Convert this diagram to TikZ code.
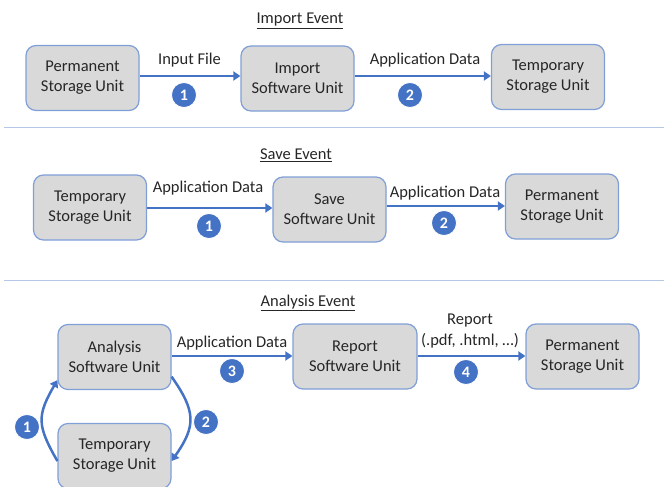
\documentclass[tikz,border=0pt]{standalone}
\usepackage{fontspec}
\setmainfont{Carlito}
\usetikzlibrary{arrows.meta,positioning,calc}

\definecolor{unitfill}{HTML}{D9D9D9}
\definecolor{unitline}{HTML}{7F9FD6}
\definecolor{flowblue}{HTML}{4472C4}
\definecolor{sepline}{HTML}{B4C7E7}

\tikzset{
  unit/.style={draw=unitline, fill=unitfill, line width=1.2pt, rounded corners=10pt,
    minimum width=113pt, minimum height=65pt, align=center, text=black!85,
    font=\fontsize{16.5}{20}\selectfont},
  flow/.style={draw=flowblue, line width=2.5pt, -{Triangle[width=9pt,length=7pt]}},
  flowlabel/.style={text=black!85, align=center, inner sep=0pt,
    font=\fontsize{16.5}{21}\selectfont},
  stepdot/.style={circle, fill=flowblue, draw=white, line width=0.8pt, text=white,
    minimum size=25pt, inner sep=0pt, font=\fontsize{16}{16}\selectfont\bfseries},
  title/.style={text=black!85, font=\fontsize{16.5}{18}\selectfont}
}

\begin{document}
\begin{tikzpicture}[x=1pt, y=-1pt]
    \useasboundingbox (0,0) rectangle (664,487);

    % Import event
    \node[title] (impT) at (300,21) {\underline{Import Event}};
    \node[unit] (impA) at (82.5,78) {Permanent\\Storage Unit};
    \node[unit] (impB) at (297.5,78.5) {Import\\Software Unit};
    \node[unit] (impC) at (548,77) {Temporary\\Storage Unit};
    \draw[flow] (impA.east |- 0,76) -- (impB.west |- 0,76);
    \draw[flow] (impB.east |- 0,76) -- (impC.west |- 0,76);
    \node[flowlabel] (impL1) at (189.5,60) {Input File};
    \node[stepdot] (impN1) at (184,95) {1};
    \node[flowlabel] (impL2) at (425,60) {Application Data};
    \node[stepdot] (impN2) at (410,95) {2};

    \draw[sepline, line width=1pt] (4,127) -- (664,127);

    % Save event
    \node[title] (savT) at (296,155) {\underline{Save Event}};
    \node[unit] (savA) at (90,207.5) {Temporary\\Storage Unit};
    \node[unit] (savB) at (329.5,209.5) {Save\\Software Unit};
    \node[unit] (savC) at (562,206.5) {Permanent\\Storage Unit};
    \draw[flow] (savA.east |- 0,208) -- (savB.west |- 0,208);
    \draw[flow] (savB.east |- 0,206) -- (savC.west |- 0,206);
    \node[flowlabel] (savL1) at (208,188) {Application Data};
    \node[stepdot] (savN1) at (209,226) {1};
    \node[flowlabel] (savL2) at (445,193) {Application Data};
    \node[stepdot] (savN2) at (444,223) {2};

    \draw[sepline, line width=1pt] (4,280) -- (664,280);

    % Analysis event
    \node[title] (anaT) at (308,303) {\underline{Analysis Event}};
    \node[unit] (anaA) at (114.5,357) {Analysis\\Software Unit};
    \node[unit] (anaT2) at (114.5,456) {Temporary\\Storage Unit};
    \node[unit, minimum width=124pt] (anaB) at (355,356.5) {Report\\Software Unit};
    \node[unit] (anaC) at (582.5,356.5) {Permanent\\Storage Unit};
    \draw[flow] (anaA.east |- 0,356) -- (anaB.west |- 0,356);
    \draw[flow] (anaB.east |- 0,356) -- (anaC.west |- 0,356);
    \node[flowlabel] (anaL3) at (232,343) {Application Data};
    \node[stepdot] (anaN3) at (232,371) {3};
    \node[flowlabel] (anaL4) at (470,331) {Report\\(.pdf, .html, …)};
    \node[stepdot] (anaN4) at (466,372) {4};

    % loop between analysis and temporary storage
    \draw[flow] (anaT2.185) to[out=120, in=240, looseness=1.3] (anaA.202);
    \draw[flow] (anaA.341) to[out=-55, in=55, looseness=1.3] (anaT2.355);
    \node[stepdot] (anaN1) at (27,427) {1};
    \node[stepdot] (anaN2) at (206,422) {2};
\end{tikzpicture}
\end{document}
